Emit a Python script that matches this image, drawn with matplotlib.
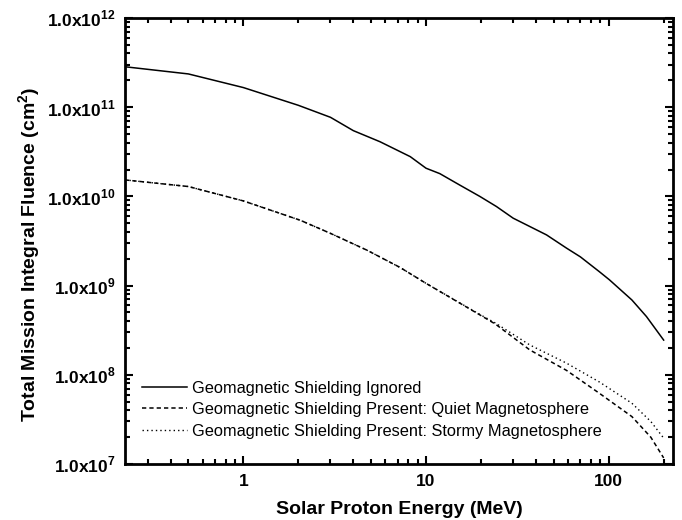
import numpy as np
import matplotlib.pyplot as plt
from matplotlib.ticker import FixedLocator, LogLocator, NullFormatter

plt.rcParams['font.family'] = ['Liberation Sans', 'DejaVu Sans']
plt.rcParams['mathtext.fontset'] = 'custom'
plt.rcParams['mathtext.rm'] = 'Liberation Sans'
plt.rcParams['mathtext.bf'] = 'Liberation Sans:bold'

# energies (MeV) and fluences (cm^-2)
e_ign = [0.225, 0.5, 1, 2, 3, 4, 5.6, 8.2, 10, 11.9, 15.3, 19.7, 24.3, 30, 45.7,
         58.8, 70, 89, 101, 134, 161, 200]
f_ign = [2.84e11, 2.36e11, 1.66e11, 1.05e11, 7.7e10, 5.46e10, 4.1e10, 2.79e10, 2.07e10,
         1.8e10, 1.34e10, 1.0e10, 7.7e9, 5.7e9, 3.7e9, 2.63e9, 2.1e9, 1.43e9, 1.16e9,
         6.9e8, 4.5e8, 2.45e8]

e_quiet = [0.225, 0.5, 1, 2.05, 3, 4.74, 7.2, 10, 19.7, 24, 37, 58.8, 89, 134, 170, 200]
f_quiet = [1.53e10, 1.29e10, 8.9e9, 5.4e9, 3.85e9, 2.5e9, 1.6e9, 1.06e9, 4.7e8, 3.7e8,
           1.9e8, 1.12e8, 6.2e7, 3.4e7, 2.0e7, 1.17e7]

e_storm = [0.225, 0.5, 1, 2.05, 3, 4.74, 7.2, 10, 19.7, 24, 37, 58.8, 89, 134, 170, 200]
f_storm = [1.53e10, 1.29e10, 8.9e9, 5.4e9, 3.85e9, 2.5e9, 1.6e9, 1.06e9, 4.75e8, 3.8e8,
           2.16e8, 1.35e8, 8.3e7, 4.8e7, 3.0e7, 1.95e7]

labels = ['Geomagnetic Shielding Ignored',
          'Geomagnetic Shielding Present: Quiet Magnetosphere',
          'Geomagnetic Shielding Present: Stormy Magnetosphere']

fig = plt.figure(figsize=(6.82, 5.20), dpi=100)
ax = fig.add_axes([0.1833, 0.1077, 0.8035, 0.8577])

ax.plot(e_ign, f_ign, color='black', lw=1.1, ls='-', label=labels[0])
ax.plot(e_quiet, f_quiet, color='black', lw=1.1, ls=(0, (2.8, 2.0)), label=labels[1])
ax.plot(e_storm, f_storm, color='black', lw=1.0, ls=(0, (1, 2.2)), label=labels[2])

ax.set_xscale('log')
ax.set_yscale('log')
ax.set_xlim(0.225, 225)
ax.set_ylim(1e7, 1e12)

ax.xaxis.set_major_locator(FixedLocator([1, 10, 100]))
ax.set_xticklabels(['1', '10', '100'])
ax.xaxis.set_minor_locator(LogLocator(base=10, subs=np.arange(2, 10)))
ax.xaxis.set_minor_formatter(NullFormatter())

yt = [1e7, 1e8, 1e9, 1e10, 1e11, 1e12]
ax.yaxis.set_major_locator(FixedLocator(yt))
ax.set_yticklabels([r'1.0x10$^{\mathbf{%d}}$' % int(np.log10(v)) for v in yt])
ax.yaxis.set_minor_locator(LogLocator(base=10, subs=np.arange(2, 10)))
ax.yaxis.set_minor_formatter(NullFormatter())

ax.tick_params(which='both', direction='in', top=True, right=True, width=1.5)
ax.tick_params(which='major', length=6, pad=7)
ax.tick_params(which='minor', length=3.5)
ax.tick_params(axis='x', labelsize=12.5)
ax.tick_params(axis='y', labelsize=12.5)
for lbl in ax.get_xticklabels() + ax.get_yticklabels():
    lbl.set_fontweight('bold')
for s in ax.spines.values():
    s.set_linewidth(2)

ax.set_xlabel('Solar Proton Energy (MeV)', fontsize=14, fontweight='bold', labelpad=9)
ax.set_ylabel(r'Total Mission Integral Fluence (cm$^{\mathbf{2}}$)', fontsize=14,
              fontweight='bold', labelpad=3)
ax.yaxis.label.set_y(0.471)

ax.legend(loc='lower left', bbox_to_anchor=(0.019, 0.042), borderaxespad=0,
          frameon=False, fontsize=11.8, handlelength=2.75, handletextpad=0.3,
          labelspacing=0.4)

fig.savefig('out.png', dpi=100)
